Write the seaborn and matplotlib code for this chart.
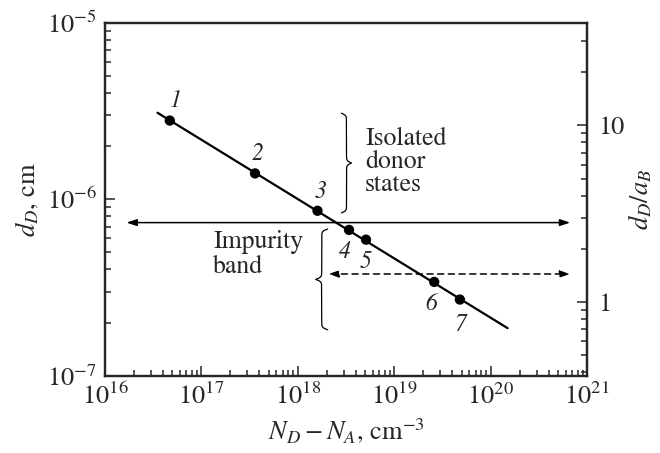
import numpy as np
import pandas as pd
import matplotlib
matplotlib.use("Agg")
import matplotlib.pyplot as plt
import seaborn as sns
from matplotlib.ticker import LogLocator, NullFormatter, FuncFormatter

# Measured samples: net donor concentration (cm^-3) and mean donor spacing (cm)
sample_ids = ["1", "2", "3", "4", "5", "6", "7"]
net_donor_conc = [4.7e16, 3.6e17, 1.6e18, 3.4e18, 5.1e18, 2.6e19, 4.8e19]
donor_spacing = [2.79e-6, 1.40e-6, 8.6e-7, 6.7e-7, 5.9e-7, 3.4e-7, 2.7e-7]

# d_D ~ N^(-1/3) line, end points
fit_conc = [3.5e16, 1.5e20]
fit_spacing = [3.09e-6, 1.86e-7]

# Effective Bohr radius (cm) for the right-hand scale
bohr_radius = 2.62e-7

# Boundaries between the regimes
isolated_limit = 7.37e-7
isolated_span = [1.67e16, 6.7e20]
band_limit = 3.77e-7
band_span = [2.07e18, 6.7e20]

xlim = (1e16, 1e21)
ylim = (1e-7, 1e-5)

sns.set_style("ticks")
plt.rcParams["font.family"] = ["STIXGeneral", "DejaVu Serif"]
plt.rcParams["mathtext.fontset"] = "stix"

df = pd.DataFrame({"sample": sample_ids, "conc": net_donor_conc, "spacing": donor_spacing})
fit = pd.DataFrame({"conc": fit_conc, "spacing": fit_spacing})

fig = plt.figure(figsize=(6.6, 4.53), dpi=100)
ax = fig.add_axes([0.1591, 0.1706, 0.8894 - 0.1591, 0.9499 - 0.1706])
ax.set_xscale("log")
ax.set_yscale("log")
ax.set_xlim(*xlim)
ax.set_ylim(*ylim)

sns.lineplot(data=fit, x="conc", y="spacing", ax=ax, color="black", lw=1.6)
sns.scatterplot(data=df, x="conc", y="spacing", ax=ax, color="black", s=55,
                edgecolor="none", zorder=3)

# Sample numbers
offsets = {"1": (4, 14), "2": (2, 14), "3": (2, 14), "4": (-3, -16),
           "5": (0, -16), "6": (-2, -16), "7": (0, -18)}
for sid, xv, yv in zip(sample_ids, net_donor_conc, donor_spacing):
    ax.annotate(sid, (xv, yv), xytext=offsets[sid], textcoords="offset points",
                ha="center", va="center", fontsize=17, fontstyle="italic")

# Regime boundaries
ax.annotate("", xy=(isolated_span[1], isolated_limit), xytext=(isolated_span[0], isolated_limit),
            arrowprops=dict(arrowstyle="<|-|>,head_length=0.6,head_width=0.2",
                            color="black", lw=1.1, shrinkA=0, shrinkB=0))
ax.annotate("", xy=(band_span[1], band_limit), xytext=(band_span[0], band_limit),
            arrowprops=dict(arrowstyle="<|-|>,head_length=0.6,head_width=0.2",
                            color="black", lw=1.1, ls=(0, (4, 3)), shrinkA=0, shrinkB=0))

# Axes styling
for s in ax.spines.values():
    s.set_linewidth(1.6)
ax.tick_params(which="both", direction="in", top=False, right=False, width=1.1,
               labelsize=19)
ax.tick_params(which="major", length=7, pad=6)
ax.tick_params(which="minor", length=4)
ax.xaxis.set_minor_locator(LogLocator(base=10, subs=np.arange(2, 10), numticks=20))
ax.yaxis.set_minor_locator(LogLocator(base=10, subs=np.arange(2, 10), numticks=20))
ax.xaxis.set_minor_formatter(NullFormatter())
ax.yaxis.set_minor_formatter(NullFormatter())

ax.set_xlabel(r"$N_D - N_A$, cm$^{-3}$", fontsize=19, labelpad=4)
ax.set_ylabel(r"$d_D$, cm", fontsize=19, labelpad=4)

# Right-hand scale in Bohr radii
ax2 = ax.twinx()
ax2.set_yscale("log")
ax2.set_ylim(ylim[0] / bohr_radius, ylim[1] / bohr_radius)
ax2.yaxis.set_major_locator(LogLocator(base=10, numticks=10))
ax2.yaxis.set_minor_locator(LogLocator(base=10, subs=np.arange(2, 10), numticks=20))
ax2.yaxis.set_major_formatter(FuncFormatter(lambda v, p: f"{v:g}"))
ax2.yaxis.set_minor_formatter(NullFormatter())
ax2.tick_params(which="both", direction="in", width=1.1, labelsize=19)
ax2.tick_params(which="major", length=7, pad=8)
ax2.tick_params(which="minor", length=4)
for s in ax2.spines.values():
    s.set_linewidth(1.6)
ax2.set_ylabel(r"$d_D/a_B$", fontsize=19, labelpad=2)


def curly_brace(ax, x, y0, y1, width, pointing, beta=0.9):
    """Vertical curly brace at data x spanning data y0..y1, drawn in pixel units."""
    p0 = ax.transData.transform((x, y0))
    p1 = ax.transData.transform((x, y1))
    xb = p0[0]
    lo, hi = sorted([p0[1], p1[1]])
    length = hi - lo
    n = 201
    t = np.linspace(0, length / 2, n)
    half = 1 / (1 + np.exp(-beta * (t - t[0]))) + 1 / (1 + np.exp(-beta * (t - t[-1])))
    v = np.concatenate([half, half[-2::-1]])
    ys = lo + np.linspace(0, length, v.size)
    xs = xb + (v - 1.0) * width * pointing
    pts = ax.transAxes.inverted().transform(np.column_stack([xs, ys]))
    ax.plot(pts[:, 0], pts[:, 1], transform=ax.transAxes, color="black",
            lw=0.9, clip_on=False)


curly_brace(ax, 3.2e18, 8.36e-7, 3.07e-6, width=10, pointing=+1)
curly_brace(ax, 1.77e18, 1.82e-7, 6.78e-7, width=12, pointing=-1)

ax.text(4.98e18, 1.63e-6, "Isolated\ndonor\nstates", fontsize=18.5, ha="left",
        va="center", linespacing=0.95)
ax.text(1.32e17, 4.85e-7, "Impurity\nband", fontsize=18.5, ha="left",
        va="center", linespacing=1.05)

fig.savefig("out.png", dpi=100)
